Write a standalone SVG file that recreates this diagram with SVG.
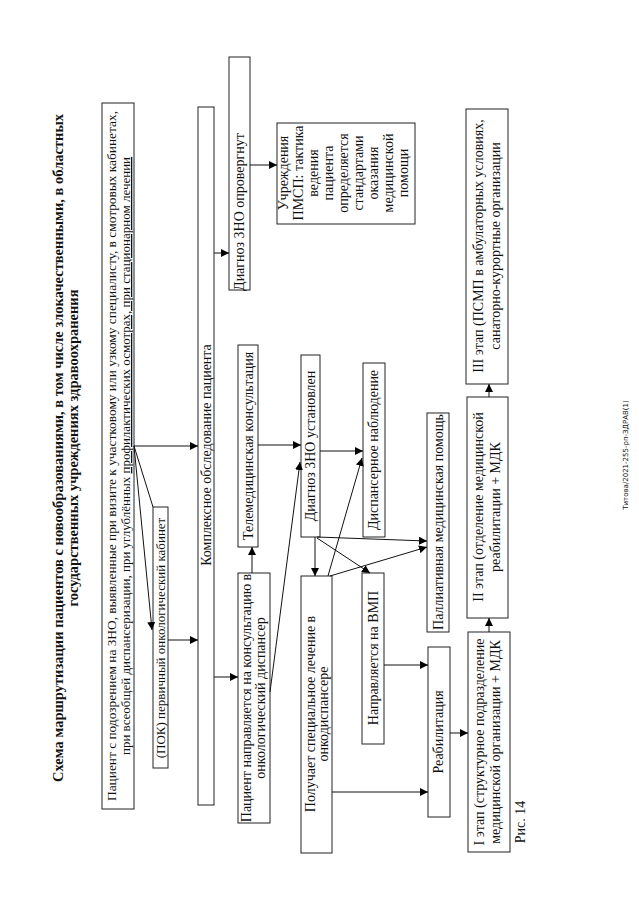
<svg xmlns="http://www.w3.org/2000/svg" width="639" height="905" viewBox="0 0 639 905">
<defs>
<marker id="ah" viewBox="0 0 10 10" refX="10" refY="5" markerWidth="8" markerHeight="8" markerUnits="userSpaceOnUse" orient="auto">
<path d="M0,0 L10,5 L0,10 z" fill="#000"/>
</marker>
<style>
rect{fill:#fff;stroke:#222;stroke-width:1}
text{font-family:"Liberation Serif","Times New Roman",serif;font-size:14px;fill:#111;text-anchor:middle}
.s{font-size:13px}
.t{font-weight:bold;font-size:14.5px}
.c line{stroke:#111;stroke-width:1;marker-end:url(#ah)}
.c line.n{marker-end:none}
.f{font-family:"DejaVu Sans","Liberation Sans",sans-serif;font-size:7px}
</style>
</defs>
<rect x="0" y="0" width="639" height="905" style="fill:#fff;stroke:none"/>
<g id="title">
<text class="t" transform="translate(63,448) rotate(-90)">Схема маршрутизации пациентов с новообразованиями, в том числе злокачественными, в областных</text>
<text class="t" transform="translate(78,448) rotate(-90)">государственных учреждениях здравоохранения</text>
</g>
<g id="n1">
<rect x="102" y="103" width="32" height="706"/>
<text class="s" transform="translate(116,456) rotate(-90)" textLength="690" lengthAdjust="spacingAndGlyphs">Пациент с подозрением на ЗНО, выявленные при визите к участковому или узкому специалисту, в смотровых кабинетах,</text>
<text class="s" transform="translate(130,456) rotate(-90)">при всеобщей диспансеризации, при углублённых <tspan text-decoration="underline">профилактических осмотрах, при стационарном лечении</tspan></text>
</g>
<g id="n2">
<rect x="153" y="507" width="15" height="261"/>
<text class="s" transform="translate(165,638) rotate(-90)">(ПОК) первичный онкологический кабинет</text>
</g>
<g id="n3">
<rect x="198" y="107" width="16" height="698"/>
<text transform="translate(211,455) rotate(-90)">Комплексное обследование пациента</text>
</g>
<g id="n4">
<rect x="229" y="57" width="21" height="233"/>
<text transform="translate(244,212) rotate(-90)">Диагноз ЗНО опровергнут</text>
</g>
<g id="n5">
<rect x="277" y="123" width="138" height="101"/>
<text transform="translate(288,173) rotate(-90)">Учреждения</text>
<text transform="translate(303,173) rotate(-90)">ПМСП: тактика</text>
<text transform="translate(318,173) rotate(-90)">ведения</text>
<text transform="translate(333,173) rotate(-90)">пациента</text>
<text transform="translate(348,173) rotate(-90)">определяется</text>
<text transform="translate(363,173) rotate(-90)">стандартами</text>
<text transform="translate(378,173) rotate(-90)">оказания</text>
<text transform="translate(393,173) rotate(-90)">медицинской</text>
<text transform="translate(408,173) rotate(-90)">помощи</text>
</g>
<g id="n6">
<rect x="238" y="573" width="32" height="250"/>
<text transform="translate(251,698) rotate(-90)">Пациент направляется на консультацию в</text>
<text transform="translate(265,698) rotate(-90)">онкологический диспансер</text>
</g>
<g id="n7">
<rect x="238" y="345" width="20" height="202"/>
<text transform="translate(253,446) rotate(-90)">Телемедицинская консультация</text>
</g>
<g id="n8">
<rect x="301" y="355" width="19" height="182"/>
<text transform="translate(315,446) rotate(-90)">Диагноз ЗНО установлен</text>
</g>
<g id="n9">
<rect x="363" y="363" width="22" height="174"/>
<text transform="translate(378,450) rotate(-90)">Диспансерное наблюдение</text>
</g>
<g id="n10">
<rect x="427" y="413" width="22" height="219"/>
<text transform="translate(443,522) rotate(-90)">Паллиативная медицинская помощь</text>
</g>
<g id="n11">
<rect x="301" y="576" width="31" height="277"/>
<text transform="translate(315,714) rotate(-90)">Получает специальное лечение в</text>
<text transform="translate(328,714) rotate(-90)">онкодиспансере</text>
</g>
<g id="n12">
<rect x="362" y="573" width="22" height="171"/>
<text transform="translate(378,658) rotate(-90)">Направляется на ВМП</text>
</g>
<g id="n13">
<rect x="428" y="647" width="22" height="170"/>
<text transform="translate(443,732) rotate(-90)">Реабилитация</text>
</g>
<g id="n14">
<rect x="468" y="632" width="42" height="220"/>
<text transform="translate(484,742) rotate(-90)">I этап (структурное подразделение</text>
<text transform="translate(500,742) rotate(-90)">медицинской организации + МДК</text>
</g>
<g id="n15">
<rect x="467" y="397" width="41" height="221"/>
<text transform="translate(483,507) rotate(-90)">II этап (отделение медицинской</text>
<text transform="translate(500,507) rotate(-90)">реабилитации + МДК</text>
</g>
<g id="n16">
<rect x="466" y="109" width="42" height="275"/>
<text transform="translate(483,246) rotate(-90)">III этап (ПСМП в амбулаторных условиях,</text>
<text transform="translate(500,246) rotate(-90)">санаторно-курортные организации</text>
</g>
<g id="caption">
<text style="font-size:14px" transform="translate(525,822) rotate(-90)">Рис. 14</text>
</g>
<g id="footer">
<text class="f" transform="translate(628,455) rotate(-90)">Титова/2021-255-рп-ЗДРАВ(1)</text>
</g>
<g class="c" id="connectors">
<line x1="134" y1="446" x2="198" y2="446"/>
<line x1="134" y1="446" x2="152" y2="630"/>
<line class="n" x1="134" y1="446" x2="153" y2="507"/>
<line x1="168" y1="640" x2="198" y2="640"/>
<line x1="214" y1="677" x2="238" y2="677"/>
<line x1="214" y1="253" x2="229" y2="253"/>
<line x1="250" y1="165" x2="277" y2="165"/>
<line x1="252" y1="573" x2="252" y2="547"/>
<line x1="258" y1="445" x2="301" y2="445"/>
<line x1="270" y1="692" x2="300" y2="462"/>
<line x1="320" y1="451" x2="363" y2="451"/>
<line x1="317" y1="537" x2="427" y2="541"/>
<line x1="315" y1="537" x2="315" y2="576"/>
<line x1="317" y1="538" x2="370" y2="573"/>
<line x1="328" y1="576" x2="362" y2="458"/>
<line x1="330" y1="576" x2="427" y2="547"/>
<line x1="384" y1="665" x2="428" y2="665"/>
<line x1="332" y1="792" x2="428" y2="792"/>
<line x1="450" y1="733" x2="468" y2="733"/>
<line x1="489" y1="632" x2="489" y2="618"/>
<line x1="489" y1="397" x2="489" y2="384"/>
</g>
</svg>
